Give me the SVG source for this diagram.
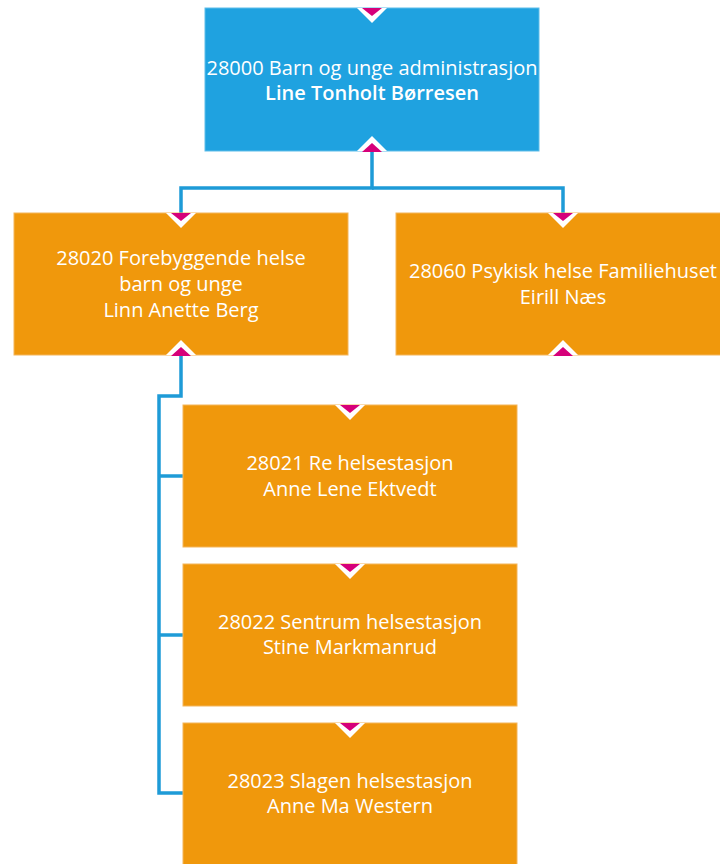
<svg xmlns="http://www.w3.org/2000/svg" xmlns:xlink="http://www.w3.org/1999/xlink" width="720" height="864" viewBox="0 0 720 864">
<style>
.box-blue{fill:#1FA2E0;stroke:#5FBDE9;stroke-width:1}
.box-orange{fill:#F0980C;stroke:#F4B55A;stroke-width:1}
.lbl{font-family:"Open Sans","Noto Sans","Liberation Sans",sans-serif;font-size:20px;fill:#FFFFFF;text-anchor:middle}
.lbl-b{font-weight:600}
.conn{fill:none;stroke:#1E9BD7;stroke-width:3.5}
</style>
<defs>
<g id="arrow-down">
<polygon points="-15,0 15,0 0,15" fill="#FFFFFF"/>
<polygon points="-10,0 10,0 0,8" fill="#D6007A"/>
</g>
<g id="arrow-up">
<polygon points="-15,0 15,0 0,-15" fill="#FFFFFF"/>
<polygon points="-10,1 10,1 0,-8" fill="#D6007A"/>
</g>
</defs>
<rect width="720" height="864" fill="#FFFFFF"/>
<g id="connectors">
<path class="conn" d="M372,151 V188 H181 V213"/>
<path class="conn" d="M372,188 H563 V213"/>
<path class="conn" d="M181,355 V396 H159 V793 H183"/>
<path class="conn" d="M159,476 H183"/>
<path class="conn" d="M159,635 H183"/>
</g>
<g id="node-28000">
<rect class="box-blue" x="205" y="8" width="334" height="143"/>
<text class="lbl" x="372" y="75">28000 Barn og unge administrasjon</text>
<text class="lbl lbl-b" x="372" y="100">Line Tonholt Børresen</text>
</g>
<g id="node-28020">
<rect class="box-orange" x="14" y="213" width="334" height="142"/>
<text class="lbl" x="181" y="265">28020 Forebyggende helse</text>
<text class="lbl" x="181" y="291">barn og unge</text>
<text class="lbl" x="181" y="317">Linn Anette Berg</text>
</g>
<g id="node-28060">
<rect class="box-orange" x="396" y="213" width="334" height="142"/>
<text class="lbl" x="563" y="278">28060 Psykisk helse Familiehuset</text>
<text class="lbl" x="563" y="304">Eirill Næs</text>
</g>
<g id="node-28021">
<rect class="box-orange" x="183" y="405" width="334" height="142"/>
<text class="lbl" x="350" y="470">28021 Re helsestasjon</text>
<text class="lbl" x="350" y="496">Anne Lene Ektvedt</text>
</g>
<g id="node-28022">
<rect class="box-orange" x="183" y="564" width="334" height="142"/>
<text class="lbl" x="350" y="629">28022 Sentrum helsestasjon</text>
<text class="lbl" x="350" y="654">Stine Markmanrud</text>
</g>
<g id="node-28023">
<rect class="box-orange" x="183" y="723" width="334" height="142"/>
<text class="lbl" x="350" y="788">28023 Slagen helsestasjon</text>
<text class="lbl" x="350" y="813">Anne Ma Western</text>
</g>
<g id="arrowheads">
<use xlink:href="#arrow-down" x="372" y="8"/>
<use xlink:href="#arrow-up" x="372" y="151"/>
<use xlink:href="#arrow-down" x="181" y="213"/>
<use xlink:href="#arrow-down" x="563" y="213"/>
<use xlink:href="#arrow-up" x="181" y="355"/>
<use xlink:href="#arrow-up" x="563" y="355"/>
<use xlink:href="#arrow-down" x="350" y="405"/>
<use xlink:href="#arrow-down" x="350" y="564"/>
<use xlink:href="#arrow-down" x="350" y="723"/>
</g>
</svg>
